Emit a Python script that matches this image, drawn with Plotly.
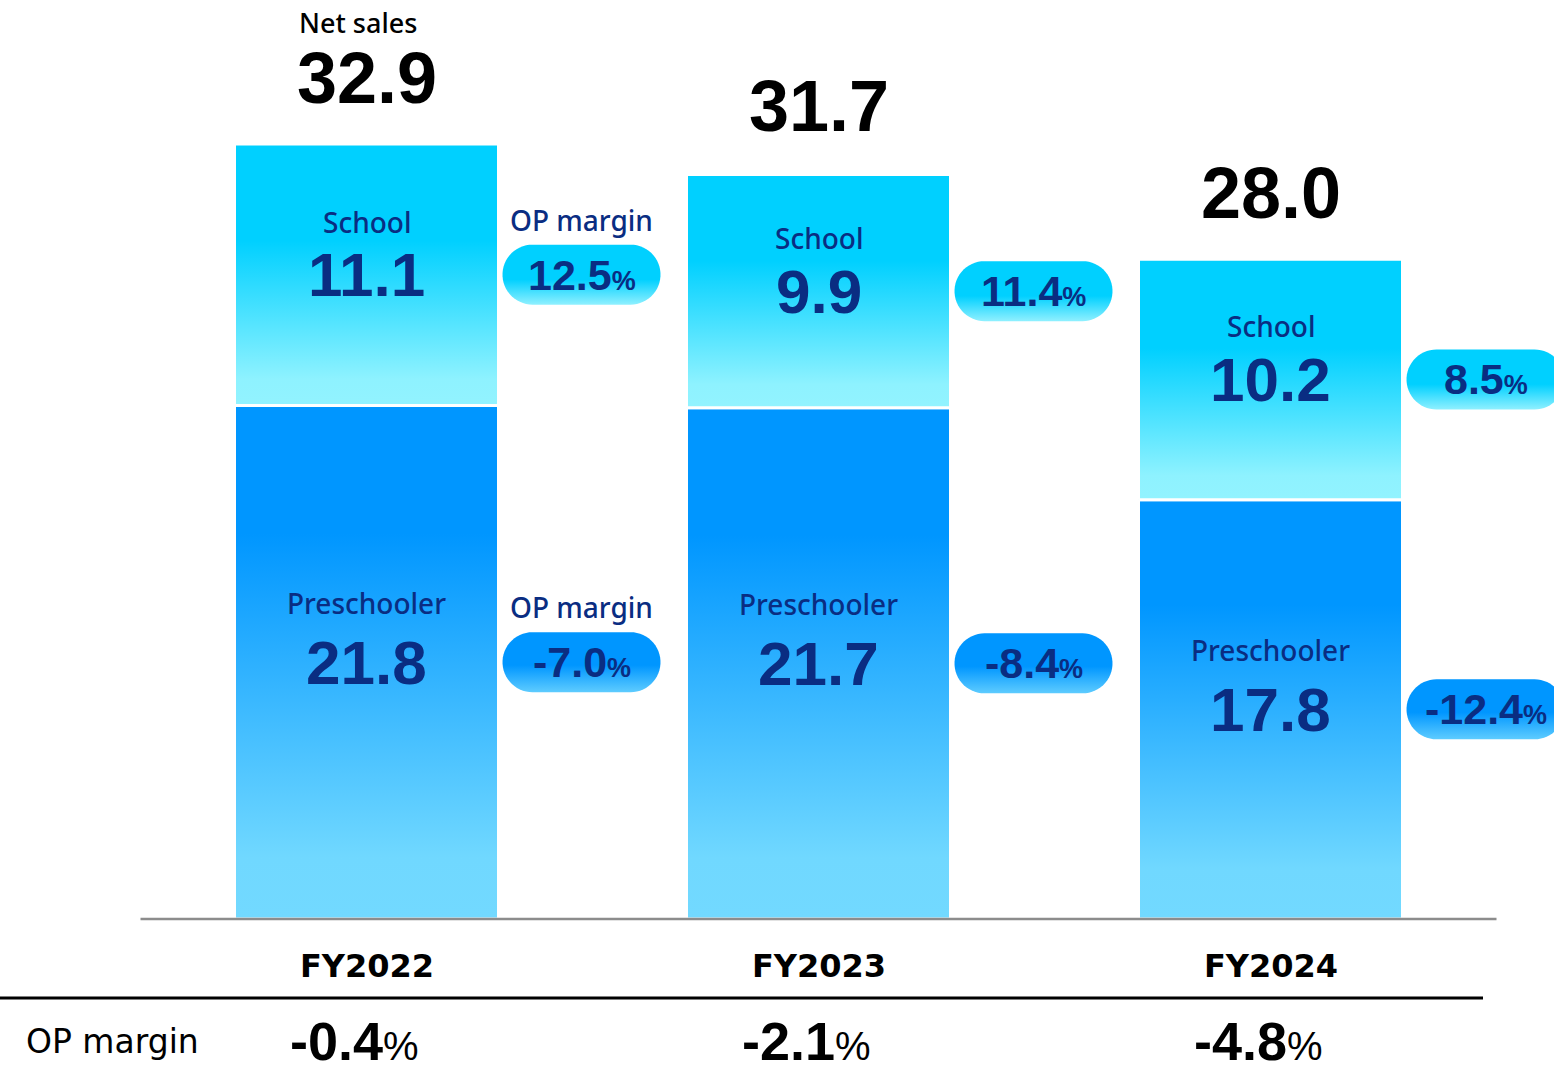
import numpy as np
import plotly.graph_objects as go

# ---------------- data ----------------
years = ["FY2022", "FY2023", "FY2024"]
preschooler = [21.8, 21.7, 17.8]
school = [11.1, 9.9, 10.2]
net_sales = [32.9, 31.7, 28.0]
op_margin_school = [12.5, 11.4, 8.5]
op_margin_preschooler = [-7.0, -8.4, -12.4]
op_margin_total = [-0.4, -2.1, -4.8]

# ---------------- geometry / style ----------------
W, H = 1554, 1072
PX_X = 452.0      # pixels per category step
PX_Y = 23.56      # pixels per unit of sales
X0_PX = 366.5     # pixel of first category
Y0_PX = 919.0     # pixel of zero baseline
x_range = [(0 - X0_PX) / PX_X, (W - X0_PX) / PX_X]
y_range = [(Y0_PX - H) / PX_Y, Y0_PX / PX_Y]

BAR_HALF = (264 / 2) / PX_X
PILL_OFFSET = 215 / PX_X
PILL_W, PILL_H = 158, 60

NAVY = "#0a2d82"
NUM_FONT = "Liberation Sans"
LBL_FONT = "Noto Sans"

school_scale = [[0, "#92F3FF"], [0.1, "#8EF2FF"], [0.63, "#00D0FF"], [1, "#00D0FF"]]
pre_scale = [[0, "#72D9FF"], [0.12, "#70D8FF"], [0.75, "#0096FF"], [1, "#0096FF"]]
pill_school_scale = [[0, "#8FF0FF"], [0.42, "#00D0FF"], [1, "#00D0FF"]]
pill_pre_scale = [[0, "#5ECCFF"], [0.45, "#0096FF"], [1, "#0096FF"]]

fig = go.Figure()


def add_rect(xc, y0, y1, scale):
    xs = [xc - BAR_HALF, xc + BAR_HALF, xc + BAR_HALF, xc - BAR_HALF, xc - BAR_HALF]
    ys = [y0, y0, y1, y1, y0]
    fig.add_trace(go.Scatter(
        x=xs, y=ys, mode="lines", fill="toself",
        line=dict(color="white", width=3),
        fillgradient=dict(type="vertical", colorscale=scale, start=y0, stop=y1),
        hoverinfo="skip", showlegend=False,
    ))


def add_pill(xc, yc, scale):
    r = PILL_H / 2
    half = PILL_W / 2 - r
    t1 = np.linspace(-np.pi / 2, np.pi / 2, 30)
    t2 = np.linspace(np.pi / 2, 3 * np.pi / 2, 30)
    px = np.concatenate([half + r * np.cos(t1), -half + r * np.cos(t2)])
    py = np.concatenate([r * np.sin(t1), r * np.sin(t2)])
    px = np.append(px, px[0])
    py = np.append(py, py[0])
    xs = xc + px / PX_X
    ys = yc + py / PX_Y
    fig.add_trace(go.Scatter(
        x=xs, y=ys, mode="none", fill="toself",
        fillgradient=dict(type="vertical", colorscale=scale,
                          start=yc - r / PX_Y, stop=yc + r / PX_Y),
        hoverinfo="skip", showlegend=False,
    ))


annotations = []
for i, yr in enumerate(years):
    p = preschooler[i]
    s = school[i]
    add_rect(i, 0, p, pre_scale)
    add_rect(i, p, p + s, school_scale)

    p_mid = p / 2
    s_mid = p + s / 2
    # pills
    add_pill(i + PILL_OFFSET, s_mid, pill_school_scale)
    add_pill(i + PILL_OFFSET, p_mid, pill_pre_scale)

    # segment labels
    for mid, name, val, sh in [(s_mid, "School", s, 53), (p_mid, "Preschooler", p, 59)]:
        annotations.append(dict(x=i, y=mid, yanchor="middle", text=f"{val:.1f}", showarrow=False,
                                font=dict(family=NUM_FONT, size=62, color=NAVY, weight="bold")))
        annotations.append(dict(x=i, y=mid, yanchor="middle", yshift=sh, text=name, showarrow=False,
                                font=dict(family=LBL_FONT, size=28, color=NAVY, weight=500)))

    # pill texts
    for mid, m in [(s_mid, op_margin_school[i]), (p_mid, op_margin_preschooler[i])]:
        annotations.append(dict(
            x=i + PILL_OFFSET, y=mid, yanchor="middle", showarrow=False,
            text=f"{m:.1f}<span style='font-size:27px'>%</span>",
            font=dict(family=NUM_FONT, size=43, color=NAVY, weight="bold")))
        if i == 0:
            annotations.append(dict(x=i + PILL_OFFSET, y=mid, yanchor="middle", yshift=55,
                                    text="OP margin", showarrow=False,
                                    font=dict(family=LBL_FONT, size=28, color=NAVY, weight=500)))

    # totals
    annotations.append(dict(x=i, y=net_sales[i], yanchor="middle", yshift=66,
                            text=f"{net_sales[i]:.1f}", showarrow=False,
                            font=dict(family=NUM_FONT, size=72, color="black", weight="bold")))
    if i == 0:
        annotations.append(dict(x=i, y=net_sales[i], yanchor="middle", yshift=121, xshift=-9,
                                text="Net sales", showarrow=False,
                                font=dict(family=LBL_FONT, size=27, color="black", weight=500)))

    # category labels
    annotations.append(dict(x=i, xref="x", y=1 - 966 / H, yref="paper", yanchor="middle",
                            text=yr, showarrow=False,
                            font=dict(family="DejaVu Sans", size=32, color="black", weight="bold")))
    # bottom op margin
    annotations.append(dict(
        x=i, xref="x", xshift=-12, y=1 - 1041 / H, yref="paper", yanchor="middle",
        showarrow=False,
        text=f"<b>{op_margin_total[i]:.1f}</b><span style='font-size:40px'>%</span>",
        font=dict(family=NUM_FONT, size=54, color="black")))

annotations.append(dict(x=24 / W, xref="paper", xanchor="left", y=1 - 1041 / H, yref="paper",
                        yanchor="middle", text="OP margin", showarrow=False,
                        font=dict(family="DejaVu Sans", size=33, color="black")))

shapes = [
    dict(type="line", xref="x", yref="y", x0=-0.5, x1=len(years) - 0.5, y0=0, y1=0,
         line=dict(color="#8C8C8C", width=2.5), layer="above"),
    dict(type="line", xref="paper", yref="paper", x0=0, x1=1483 / W,
         y0=1 - 998 / H, y1=1 - 998 / H, line=dict(color="black", width=3)),
]

fig.update_layout(
    width=W, height=H,
    margin=dict(l=0, r=0, t=0, b=0),
    paper_bgcolor="white", plot_bgcolor="white",
    xaxis=dict(range=x_range, visible=False, fixedrange=True),
    yaxis=dict(range=y_range, visible=False, fixedrange=True),
    showlegend=False,
    annotations=annotations,
    shapes=shapes,
)

fig.write_html("out.html", config={"displayModeBar": False},
               post_script="document.body.style.margin='0';document.body.style.overflow='hidden';")
